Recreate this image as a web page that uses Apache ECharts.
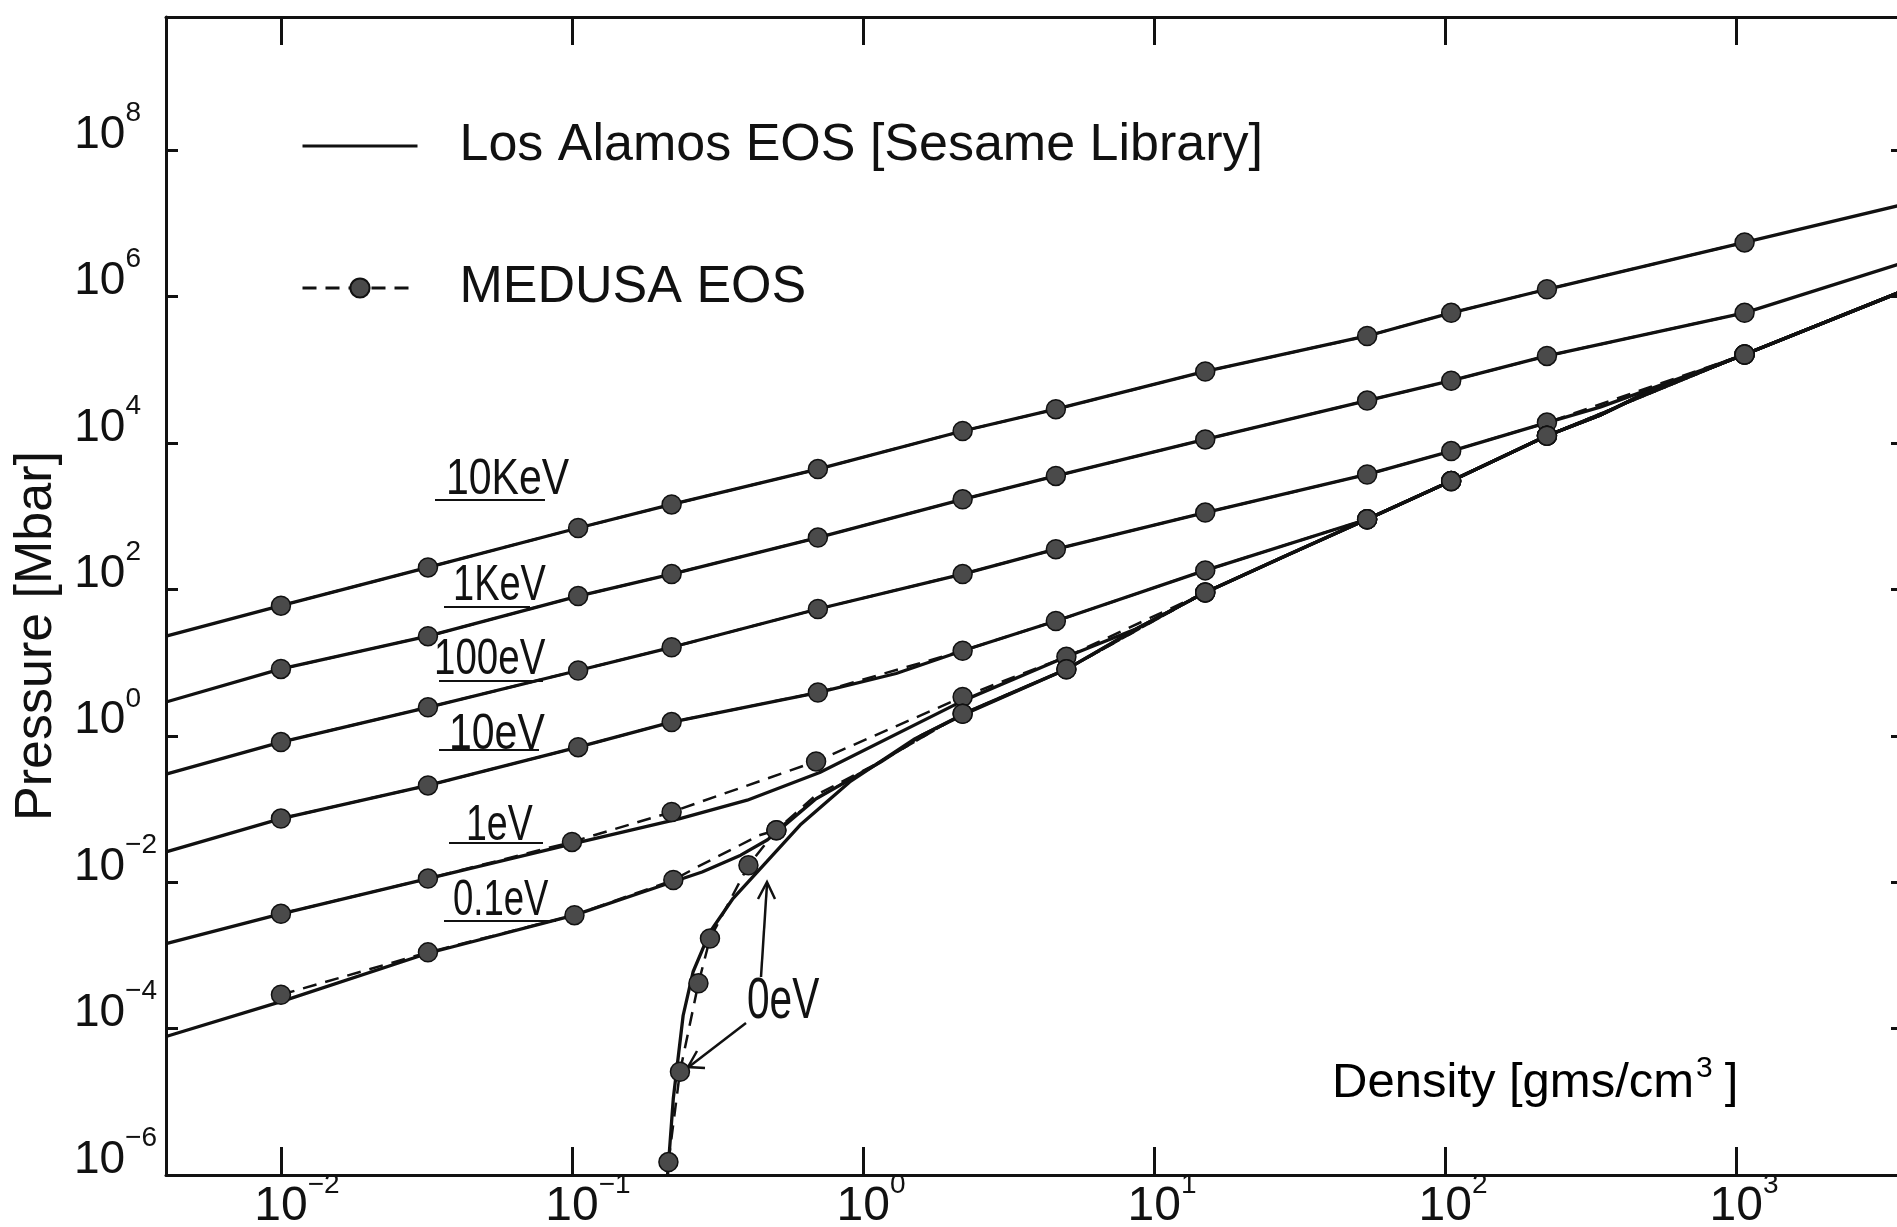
<!DOCTYPE html>
<html>
<head>
<meta charset="utf-8">
<title>Los Alamos vs MEDUSA EOS</title>
<script src="https://cdn.jsdelivr.net/npm/echarts@6/dist/echarts.min.js"></script>
<style>
  html, body { margin: 0; padding: 0; background: #fff; }
  #main { width: 1897px; height: 1227px; }
</style>
</head>
<body>
<div id="main"></div>
<script>
// densities in gms/cm3, pressures in Mbar
const rhoHot = [0.00403, 0.01, 0.032, 0.105, 0.22, 0.7, 2.2, 4.6, 15, 54, 105, 224, 1070, 3600];
const p10keV = [23, 60, 200, 690, 1450, 4400, 14600, 29000, 95000, 290000, 600000, 1.26e6, 5.5e6, 1.74e7];
const p1keV = [2.9, 8.2, 23, 81, 162, 510, 1700, 3550, 11200, 38000, 71000, 155000, 600000, 2.75e6];

const rho100eV = [0.00403, 0.01, 0.032, 0.105, 0.22, 0.7, 2.2, 4.6, 15, 54, 105, 224, 341, 500, 1070, 3600];
const p100eV = [0.3, 0.82, 2.45, 7.8, 16.2, 54, 162, 355, 1120, 3720, 7760, 19000, 30900, 53700, 162000, 1.12e6];

const rho10eV = [0.00403, 0.01, 0.032, 0.105, 0.22, 0.7, 1.3, 2.2, 4.6, 15, 54, 105, 224, 341, 500, 1070, 3600];
const p10eV = [0.026, 0.074, 0.21, 0.7, 1.54, 3.9, 7.1, 14.5, 37, 182, 910, 3020, 12600, 24000, 50000, 162000, 1.12e6];

const rho1eV = [0.00403, 0.01, 0.032, 0.102, 0.235, 0.4, 0.71, 2.2, 5, 8.7, 15, 28, 54, 105, 224, 341, 500, 1070, 3600];
const p1eV = [0.00145, 0.0037, 0.0112, 0.034, 0.074, 0.132, 0.316, 3.0, 12, 29, 91, 282, 910, 3020, 12600, 24000, 50000, 162000, 1.12e6];

const rho01eV = [0.00403, 0.01, 0.032, 0.102, 0.22, 0.28, 0.38, 0.47, 0.69, 1.15, 1.58, 2.25, 5, 8.7, 15, 28, 54, 105, 224, 341, 500, 1070, 3600];
const p01eV = [7.8e-5, 2.34e-4, 1.07e-3, 3.55e-3, 0.01, 0.0138, 0.0234, 0.038, 0.138, 0.437, 1.0, 2.0, 8.1, 28.8, 91, 282, 910, 3020, 12600, 24000, 50000, 162000, 1.12e6];

const rho0eV = [0.213, 0.2145, 0.223, 0.241, 0.261, 0.298, 0.358, 0.467, 0.608, 0.9, 1.51, 2.27, 5, 8.7, 15, 28, 54, 105, 224, 341, 500, 1070, 3600];
const p0eV = [1e-6, 1.38e-6, 1.12e-5, 1.51e-4, 6.03e-4, 2.09e-3, 6.03e-3, 0.0191, 0.0603, 0.234, 0.912, 2.09, 8.1, 28.8, 91, 282, 910, 3020, 12600, 24000, 50000, 162000, 1.12e6];

// MEDUSA points
const rhoMed = [0.01, 0.032, 0.105, 0.22, 0.7, 2.2, 4.6, 15, 54, 105, 224, 1070];
const pMed10keV = [60, 200, 690, 1450, 4400, 14600, 29000, 95000, 290000, 600000, 1.26e6, 5.5e6];
const pMed1keV = [8.2, 23, 81, 162, 510, 1700, 3550, 11200, 38000, 71000, 155000, 600000];
const pMed100eV = [0.82, 2.45, 7.8, 16.2, 54, 162, 355, 1120, 3720, 7760, 19000, 162000];
const pMed10eV = [0.074, 0.21, 0.7, 1.54, 3.9, 14.5, 37, 182, 910, 3020, 12600, 162000];

const rhoMed1eV = [0.01, 0.032, 0.1, 0.22, 0.69, 2.2, 5, 15, 54, 105, 224, 1070];
const pMed1eV = [0.0037, 0.0112, 0.0355, 0.091, 0.447, 3.4, 12, 91, 910, 3020, 12600, 162000];

const rhoMed01eV = [0.01, 0.032, 0.102, 0.223, 0.27, 0.44, 0.504, 0.69, 2.2, 5, 15, 54, 105, 224, 1070];
const pMed01eV = [2.9e-4, 1.1e-3, 3.55e-3, 0.0107, 0.0162, 0.0437, 0.0513, 0.138, 2.0, 8.1, 91, 910, 3020, 12600, 162000];
const bareMed01eV = [0, 0, 0, 0, 1, 1, 0, 1, 0, 0, 0, 0, 0, 0, 0];

const rhoMed0eV = [0.2145, 0.235, 0.272, 0.298, 0.404, 0.504, 0.69, 1.14, 2.2, 5, 15, 54, 105, 224, 1070];
const pMed0eV = [1.5e-6, 2.57e-5, 4.17e-4, 1.7e-3, 0.017, 0.0513, 0.155, 0.437, 2.0, 8.1, 91, 910, 3020, 12600, 162000];
const bareMed0eV = [0, 0, 0, 0, 0, 0, 1, 1, 0, 0, 0, 0, 0, 0, 0];

const F = '"Liberation Sans", Arial, sans-serif';
const INK = '#111';
const solidName = 'Los Alamos EOS [Sesame Library]';
const medName = 'MEDUSA EOS';

function pairs(xs, ys, bare) {
  return xs.map(function (x, i) {
    if (bare && bare[i]) return { value: [x, ys[i]], symbol: 'none' };
    return [x, ys[i]];
  });
}

function solid(xs, ys) {
  return {
    name: solidName, type: 'line', data: pairs(xs, ys),
    symbol: 'none', smooth: false,
    lineStyle: { color: INK, width: 3.3 }, itemStyle: { color: INK },
    z: 2, silent: true
  };
}

function medusa(xs, ys, bare) {
  return {
    name: medName, type: 'line', data: pairs(xs, ys, bare),
    symbol: 'circle', symbolSize: 19,
    lineStyle: { color: INK, width: 2.5, type: [14, 9] },
    itemStyle: { color: '#4a4a4a', borderColor: INK, borderWidth: 1.5 },
    z: 3, silent: true
  };
}

function decade(val) {
  const e = Math.log10(val);
  const k = Math.round(e);
  return Math.abs(e - k) > 1e-6 ? null : k;
}

// y labels: right aligned, "10" kept in one column
function yLabel(val) {
  const k = decade(val);
  if (k === null) return '';
  return k < 0 ? '{b|10}{s|\u2212' + (-k) + '}' : '{b|10}{sp|' + k + '}';
}

// x labels: "10" centred on the tick, exponent hanging right
function xLabel(val) {
  const k = decade(val);
  if (k === null) return '';
  return k < 0 ? '{bn|10}{s|\u2212' + (-k) + '}' : '{bp|10}{s|' + k + '}';
}

const supStyle = { fontFamily: F, fontSize: 28, lineHeight: 28, verticalAlign: 'top', color: INK };

const chart = echarts.init(document.getElementById('main'));

const option = {
  animation: false,
  backgroundColor: '#fff',
  grid: { left: 166, top: 17, right: -2, bottom: 52, containLabel: false, outerBoundsMode: 'none' },
  legend: {
    data: [
      { name: solidName, itemStyle: { opacity: 0 } },
      { name: medName }
    ],
    orient: 'vertical', left: 296, top: 113,
    itemWidth: 115, itemHeight: 24, itemGap: 86,
    selectedMode: false,
    lineStyle: { width: 3 },
    textStyle: { fontFamily: F, fontSize: 52, color: INK, lineHeight: 56, padding: [0, 0, 0, 37] }
  },
  xAxis: [
    {
      type: 'log', logBase: 10, min: Math.pow(10, -2.395), max: Math.pow(10, 3.56),
      position: 'bottom',
      axisLine: { show: true, lineStyle: { color: INK, width: 3 } },
      axisTick: { show: true, inside: true, length: 28, lineStyle: { color: INK, width: 3 } },
      axisLabel: {
        formatter: xLabel, margin: -4,
        rich: {
          bp: { fontFamily: F, fontSize: 48, lineHeight: 72, color: INK, padding: [0, 0, 0, 16] },
          bn: { fontFamily: F, fontSize: 48, lineHeight: 72, color: INK, padding: [0, 0, 0, 32] },
          s: supStyle
        }
      },
      splitLine: { show: false }, minorTick: { show: false }
    },
    {
      type: 'log', logBase: 10, min: Math.pow(10, -2.395), max: Math.pow(10, 3.56),
      position: 'top',
      axisLine: { show: true, lineStyle: { color: INK, width: 3 } },
      axisTick: { show: true, inside: true, length: 28, lineStyle: { color: INK, width: 3 } },
      axisLabel: { show: false },
      splitLine: { show: false }
    }
  ],
  yAxis: [
    {
      type: 'log', logBase: 10, min: 1e-6, max: Math.pow(10, 9.82), interval: 2,
      position: 'left',
      axisLine: { show: true, lineStyle: { color: INK, width: 3 } },
      axisTick: { show: true, inside: true, length: 12, lineStyle: { color: INK, width: 3 } },
      axisLabel: {
        formatter: yLabel, margin: 9, padding: [0, 0, 30, 0],
        rich: {
          b: { fontFamily: F, fontSize: 46, lineHeight: 72, color: INK },
          s: supStyle,
          sp: Object.assign({}, supStyle, { padding: [0, 16, 0, 0] })
        }
      },
      splitLine: { show: false },
      name: 'Pressure [Mbar]', nameLocation: 'middle', nameRotate: 90, nameGap: 85,
      nameTextStyle: { fontFamily: F, fontSize: 52, color: INK, padding: [0, 80, 0, 0] }
    },
    {
      type: 'log', logBase: 10, min: 1e-6, max: Math.pow(10, 9.82), interval: 2,
      position: 'right',
      axisLine: { show: true, lineStyle: { color: INK, width: 3 } },
      axisTick: { show: true, inside: true, length: 8, lineStyle: { color: INK, width: 3 } },
      axisLabel: { show: false },
      splitLine: { show: false }
    }
  ],
  series: [
    solid(rhoHot, p10keV),
    solid(rhoHot, p1keV),
    solid(rho100eV, p100eV),
    solid(rho10eV, p10eV),
    solid(rho1eV, p1eV),
    solid(rho01eV, p01eV),
    solid(rho0eV, p0eV),
    medusa(rhoMed, pMed10keV),
    medusa(rhoMed, pMed1keV),
    medusa(rhoMed, pMed100eV),
    medusa(rhoMed, pMed10eV),
    medusa(rhoMed1eV, pMed1eV),
    medusa(rhoMed01eV, pMed01eV, bareMed01eV),
    medusa(rhoMed0eV, pMed0eV, bareMed0eV)
  ],
  graphic: [
    // temperature labels
    { type: 'text', x: 446, y: 480, scaleX: 0.82, style: { text: '10KeV', font: '50px ' + F, fill: INK, verticalAlign: 'middle', textVerticalAlign: 'middle' } },
    { type: 'text', x: 453, y: 586, scaleX: 0.76, style: { text: '1KeV', font: '50px ' + F, fill: INK, verticalAlign: 'middle', textVerticalAlign: 'middle' } },
    { type: 'text', x: 434, y: 660, scaleX: 0.77, style: { text: '100eV', font: '50px ' + F, fill: INK, verticalAlign: 'middle', textVerticalAlign: 'middle' } },
    { type: 'text', x: 449, y: 735, scaleX: 0.82, style: { text: '10eV', font: '50px ' + F, fill: INK, verticalAlign: 'middle', textVerticalAlign: 'middle' } },
    { type: 'text', x: 466, y: 826, scaleX: 0.75, style: { text: '1eV', font: '50px ' + F, fill: INK, verticalAlign: 'middle', textVerticalAlign: 'middle' } },
    { type: 'text', x: 453, y: 901, scaleX: 0.73, style: { text: '0.1eV', font: '50px ' + F, fill: INK, verticalAlign: 'middle', textVerticalAlign: 'middle' } },
    { type: 'line', shape: { x1: 435, y1: 500, x2: 545, y2: 500 }, style: { stroke: INK, lineWidth: 2 } },
    { type: 'line', shape: { x1: 444, y1: 607, x2: 530, y2: 607 }, style: { stroke: INK, lineWidth: 2 } },
    { type: 'line', shape: { x1: 439, y1: 681, x2: 543, y2: 681 }, style: { stroke: INK, lineWidth: 2 } },
    { type: 'line', shape: { x1: 439, y1: 750, x2: 539, y2: 750 }, style: { stroke: INK, lineWidth: 2 } },
    { type: 'line', shape: { x1: 449, y1: 843, x2: 543, y2: 843 }, style: { stroke: INK, lineWidth: 2 } },
    { type: 'line', shape: { x1: 444, y1: 921, x2: 556, y2: 921 }, style: { stroke: INK, lineWidth: 2 } },
    // 0 eV label and its arrows
    { type: 'text', x: 747, y: 1002, scaleX: 0.7, style: { text: '0eV', font: '58px ' + F, fill: INK, verticalAlign: 'middle', textVerticalAlign: 'middle' } },
    { type: 'line', shape: { x1: 761, y1: 977, x2: 767, y2: 884 }, style: { stroke: INK, lineWidth: 2.5 } },
    { type: 'polyline', shape: { points: [[758, 899], [767, 882], [775, 899]] }, style: { stroke: INK, lineWidth: 2.5, fill: null } },
    { type: 'line', shape: { x1: 746, y1: 1023, x2: 690, y2: 1066 }, style: { stroke: INK, lineWidth: 2.5 } },
    { type: 'polyline', shape: { points: [[697, 1051], [688, 1067], [705, 1068]] }, style: { stroke: INK, lineWidth: 2.5, fill: null } },
    // x axis title inside the plot
    {
      type: 'text', x: 1332, y: 1083,
      style: {
        text: '{a|Density [gms/cm}{s|3}{a|]}',
        verticalAlign: 'middle', textVerticalAlign: 'middle',
        rich: {
          a: { fontFamily: F, fontSize: 49, lineHeight: 58, color: INK },
          s: { fontFamily: F, fontSize: 30, lineHeight: 30, verticalAlign: 'top', color: INK, padding: [0, 12, 0, 2] }
        }
      }
    }
  ]
};

chart.setOption(option);
</script>
</body>
</html>
